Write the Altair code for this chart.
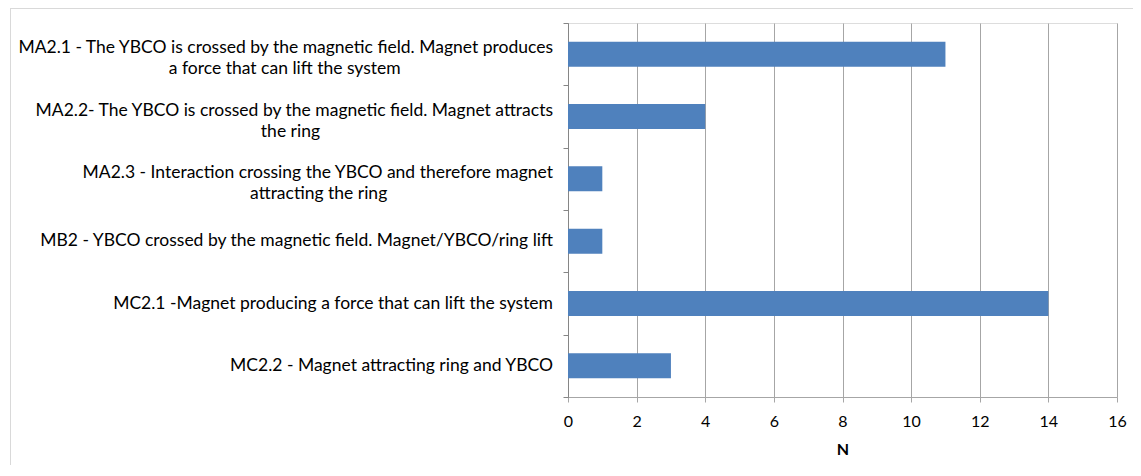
import altair as alt
import pandas as pd

# ---- data ----
first_lines = [
    "MA2.1 - The YBCO is crossed by the magnetic field. Magnet produces",
    "MA2.2- The YBCO is crossed by the magnetic field. Magnet attracts",
    "MA2.3 - Interaction crossing the YBCO and therefore magnet",
    "MB2 - YBCO crossed by the magnetic field. Magnet/YBCO/ring lift",
    "MC2.1 -Magnet producing a force that can lift the system",
    "MC2.2 - Magnet attracting ring and YBCO",
]
second_lines = [
    "a force that can lift the system",
    "the ring",
    "attracting the ring",
    "",
    "",
    "",
]
values = [11, 4, 1, 1, 14, 3]
x_ticks = [0, 2, 4, 6, 8, 10, 12, 14, 16]

NBSP = "\u00a0"
ZWSP = "\u200b"  # keeps the trailing no-break spaces from being trimmed
LABEL_SIZE = 17.5


def make_label(l1, l2):
    if not l2:
        return l1
    # pad the (right-aligned) second line so that it sits centred under the first
    w1 = len(l1) * 8.05
    w2 = len(l2) * 7.1
    space_w = 0.256 * LABEL_SIZE
    pad = max(0, round((w1 - w2) / 2 / space_w))
    return l1 + "|" + l2 + NBSP * pad + ZWSP


categories = [make_label(a, b) for a, b in zip(first_lines, second_lines)]
df = pd.DataFrame({"cat": categories, "N": values})

FONT = "Lato"
W, H = 549, 374

y_enc = alt.Y(
    "cat:N",
    sort=categories,
    scale=alt.Scale(paddingInner=0, paddingOuter=0),
    axis=alt.Axis(
        title=None,
        labels=False,
        tickBand="extent",
        domainColor="#868686",
        tickColor="#868686",
        tickSize=5,
    ),
)

bars = alt.Chart(df).mark_bar(color="#4F81BD", height={"band": 0.4}).encode(
    x=alt.X(
        "N:Q",
        scale=alt.Scale(domain=[0, 16], nice=False),
        axis=alt.Axis(
            values=x_ticks,
            title="N",
            grid=True,
            gridColor="#A6A6A6",
            domainColor="#A6A6A6",
            tickColor="#A6A6A6",
            tickSize=5,
            labelFlush=False,
            labelPadding=11,
            labelFont=FONT,
            labelFontSize=16,
            labelColor="#000000",
            titleFont=FONT,
            titleFontSize=16,
            titleFontWeight="bold",
            titleColor="#000000",
            titlePadding=12,
        ),
    ),
    y=y_enc,
)

label_base = alt.Chart(df).transform_calculate(lines="split(datum.cat, '|')")

labels_one = label_base.transform_filter("indexof(datum.cat, '|') < 0").mark_text(
    align="right", baseline="middle", dx=-15, font=FONT, fontSize=LABEL_SIZE,
    color="#000000", lineHeight=21,
).encode(x=alt.datum(0), y=y_enc, text="lines:N")

labels_two = label_base.transform_filter("indexof(datum.cat, '|') >= 0").mark_text(
    align="right", baseline="middle", dx=-15, dy=-6, font=FONT, fontSize=LABEL_SIZE,
    color="#000000", lineHeight=21,
).encode(x=alt.datum(0), y=y_enc, text="lines:N")

one = pd.DataFrame({"a": [0]})
border_top = alt.Chart(one).mark_rule(color="#D9D9D9", strokeWidth=1).encode(
    x=alt.value(-558), x2=alt.value(W + 30), y=alt.value(-14.5)
)
border_left = alt.Chart(one).mark_rule(color="#D9D9D9", strokeWidth=1).encode(
    x=alt.value(-557.5), y=alt.value(-15), y2=alt.value(H + 90)
)

chart = (
    alt.layer(bars, labels_one, labels_two, border_top, border_left)
    .properties(
        width=W,
        height=H,
        autosize=alt.AutoSizeParams(type="none"),
        padding={"left": 560, "top": 15, "right": 16, "bottom": 68},
    )
    .configure_view(stroke=None)
    .configure(background="white")
)

chart.save("out.html", embed_options={"renderer": "svg", "actions": False})
